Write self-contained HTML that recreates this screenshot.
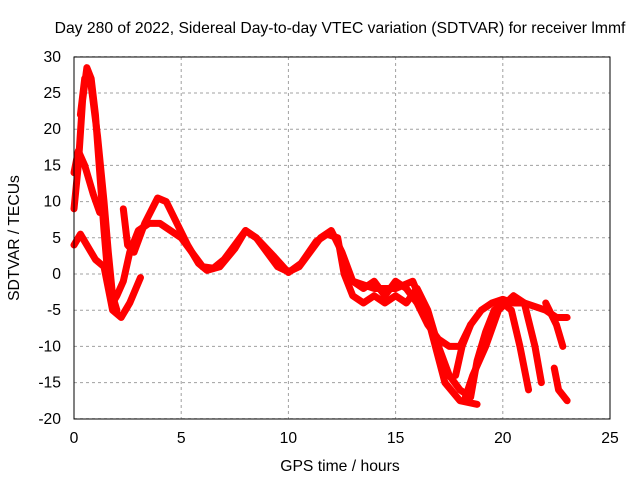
<!DOCTYPE html>
<html><head><meta charset="utf-8"><style>
body{margin:0;background:#fff}
svg text{font-family:"Liberation Sans",sans-serif;font-size:15.7px;fill:#000}
</style></head><body>
<svg id="chart" width="640" height="480" xmlns="http://www.w3.org/2000/svg">
<rect width="640" height="480" fill="#fff"/>
<text x="340" y="33" text-anchor="middle">Day 280 of 2022, Sidereal Day-to-day VTEC variation (SDTVAR) for receiver lmmf</text>
<text x="340" y="471" text-anchor="middle">GPS time / hours</text>
<text x="19" y="238" text-anchor="middle" transform="rotate(-90 19 238)">SDTVAR / TECUs</text>
<g id="grid"></g><g id="marks"></g>
<rect x="74" y="57" width="536" height="362" fill="none" stroke="#000" stroke-width="1"/>
</svg>
<script>
const xTicks=[0,5,10,15,20,25];
const yTicks=[-20,-15,-10,-5,0,5,10,15,20,25,30];
const s1=[[0,9],[0.2,15],[0.4,24],[0.6,28.5],[0.8,27],[1.0,22],[1.2,14],[1.4,6],[1.6,-1],[1.8,-4],[2.0,-3],[2.3,-1],[2.6,3],[3.0,6],[3.5,7],[4.0,7],[4.5,6],[5,5],[5.5,3],[6,1],[6.5,0.8],[7,2],[7.5,4],[8,6],[8.5,5],[9,3],[9.5,1],[10,0.3],[10.5,1],[11,3],[11.5,5],[12,6],[12.5,3],[13,-1],[13.5,-2],[14,-1],[14.5,-3],[15,-1],[15.5,-2],[16,-4],[16.5,-7],[17,-9],[17.5,-10],[18,-10],[18.5,-7],[19,-5],[19.5,-4],[20,-3.5],[20.5,-4],[21,-4],[21.5,-4.5],[22,-5],[22.5,-6],[23,-6]];
const s2=[[0,4],[0.3,5.5],[0.6,4],[1,2],[1.4,1],[1.6,-2],[1.8,-5],[2.2,-6],[2.6,-4],[3.1,-0.5]];
const s3=[[0,14],[0.2,17],[0.5,15],[0.9,11],[1.2,8.5]];
const s4=[[0.3,22],[0.5,27],[0.8,26],[1.1,19],[1.4,10],[1.6,3],[1.8,-3],[2.0,-5]];
const s5=[[2.3,9],[2.5,4],[2.8,3],[3.3,7],[3.9,10.5],[4.3,10],[4.8,7],[5.3,4],[5.8,1.5],[6.2,0.5],[6.8,1],[7.5,3.5],[8,6],[8.5,5],[9.3,2.5],[10,0.2],[10.6,1.5],[11.3,4.5],[11.8,5.5],[12.3,5],[12.6,0],[13,-3],[13.5,-4],[14,-3],[14.5,-4],[15,-3],[15.5,-4],[16,-2],[16.5,-5],[17,-10],[17.5,-14],[18,-16],[18.5,-17],[18.8,-12],[19.2,-8],[19.6,-5],[20,-4],[20.4,-5],[20.8,-10],[21.2,-16]];
const s6=[[13,-1],[14,-2],[15,-2],[15.8,-1],[16.5,-6],[17.3,-15],[18,-17.5],[18.8,-18]];
const s7=[[18.2,-17.5],[18.6,-14],[19.2,-10],[19.8,-5],[20.5,-3],[21,-4],[21.5,-10],[21.8,-15]];
const s8=[[22,-4],[22.5,-7],[22.8,-10]];
const s9=[[22.4,-13],[22.6,-16],[23,-17.5]];
const s10=[[17.8,-14],[18.1,-10],[18.5,-7]];
const series=[s1,s2,s3,s4,s5,s6,s7,s8,s9,s10];
const X=h=>74+h*536/25, Y=v=>274-v*7.24;
const NS='http://www.w3.org/2000/svg';
const grid=document.getElementById('grid'), marks=document.getElementById('marks'), svg=document.getElementById('chart');
function mk(t,a,p){const e=document.createElementNS(NS,t);for(const k in a)e.setAttribute(k,a[k]);p.appendChild(e);return e;}
xTicks.forEach(t=>{
 const l=mk('line',{x1:X(t),x2:X(t),y1:57,y2:419,stroke:'#a0a0a0','stroke-dasharray':'3,3'},grid);
 
 
 const tx=mk('text',{x:X(t),y:443,'text-anchor':'middle'},svg);tx.textContent=t;
 
 
});
yTicks.forEach(t=>{
 const l=mk('line',{x1:74,x2:610,y1:Y(t),y2:Y(t),stroke:'#a0a0a0','stroke-dasharray':'3,3'},grid);
 
 
 const tx=mk('text',{x:61,y:Y(t)+5,'text-anchor':'end'},svg);tx.textContent=t;
 
 
});
series.forEach((s,i)=>{
 const p=mk('polyline',{points:s.map(d=>X(d[0])+','+Y(d[1])).join(' '),fill:'none',stroke:'#ff0000','stroke-width':7,'stroke-linejoin':'round','stroke-linecap':'round'},marks);
 
 
});
</script>
</body></html>
